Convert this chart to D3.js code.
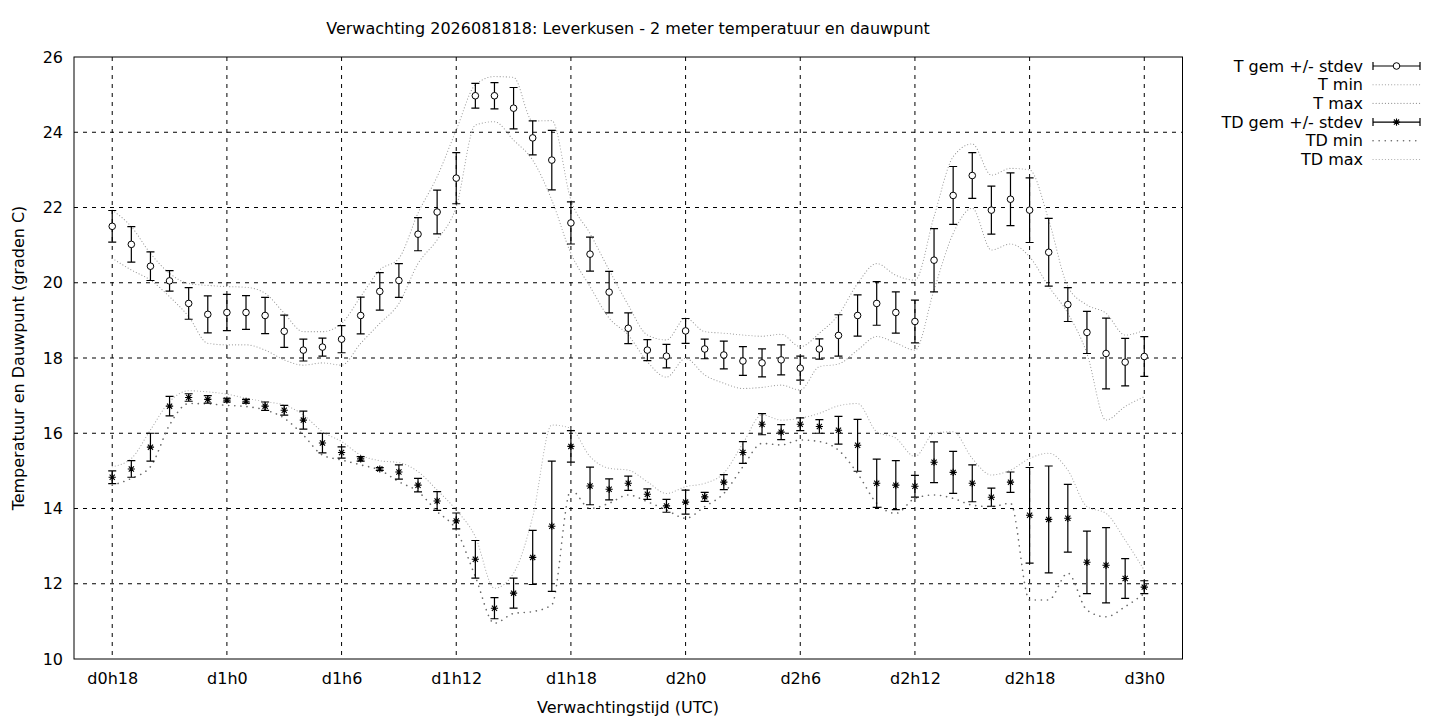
<!DOCTYPE html>
<html>
<head>
<meta charset="utf-8">
<script src="https://cdn.jsdelivr.net/npm/d3@7"></script>
<style>
  body { margin: 0; background: #fff; }
  svg { font-family: "DejaVu Sans", sans-serif; }
</style>
</head>
<body>
<div id="chart"></div>
<script>
// forecast hours, one point per hour from d0h18 to d3h0
var hours = d3.range(18, 73);

var tMean = [21.5, 21.02, 20.44, 20.05, 19.45, 19.16, 19.21, 19.21, 19.13, 18.71,
  18.21, 18.29, 18.5, 19.13, 19.77, 20.06, 21.29, 21.88, 22.78, 24.97,
  24.97, 24.64, 23.85, 23.26, 21.59, 20.76, 19.75, 18.79, 18.21, 18.05,
  18.72, 18.24, 18.08, 17.92, 17.87, 17.95, 17.73, 18.24, 18.6, 19.13,
  19.45, 19.21, 18.97, 20.6, 22.32, 22.85, 21.93, 22.22, 21.93, 20.81,
  19.42, 18.68, 18.12, 17.89, 18.04];
var tSd = [0.42, 0.47, 0.38, 0.27, 0.42, 0.49, 0.48, 0.45, 0.48, 0.43,
  0.29, 0.24, 0.36, 0.49, 0.5, 0.45, 0.44, 0.58, 0.68, 0.33,
  0.35, 0.55, 0.45, 0.79, 0.56, 0.45, 0.55, 0.41, 0.28, 0.31,
  0.33, 0.26, 0.37, 0.38, 0.37, 0.4, 0.32, 0.27, 0.55, 0.55,
  0.58, 0.55, 0.57, 0.84, 0.77, 0.61, 0.64, 0.7, 0.86, 0.9,
  0.45, 0.56, 0.94, 0.63, 0.53];
var tMin = [20.65, 20.34, 20.07, 19.63, 19.1, 18.39, 18.35, 18.35, 18.21, 17.95,
  17.81, 17.87, 17.81, 18.39, 18.92, 19.45, 20.51, 21.14, 22.02, 24.19,
  24.28, 23.79, 23.26, 22.2, 20.78, 19.9, 19.06, 18.61, 17.9, 17.49,
  17.99, 17.55, 17.33, 17.19, 17.22, 17.28, 17.15, 17.77, 17.84, 18.21,
  18.57, 18.4, 18.21, 19.81, 21.31, 21.98, 20.87, 21.03, 20.69, 19.9,
  19.19, 18.12, 16.35, 16.71, 16.97];
var tMax = [21.93, 21.49, 20.78, 20.25, 19.98, 19.93, 19.9, 19.88, 19.72, 19.19,
  18.7, 18.7, 18.92, 19.63, 20.34, 20.65, 21.85, 22.82, 24.06, 25.26,
  25.48, 25.46, 24.3, 24.31, 22.2, 21.31, 20.34, 19.41, 18.61, 18.48,
  19.06, 18.7, 18.66, 18.61, 18.58, 18.63, 18.3, 18.66, 19.15, 19.98,
  20.51, 20.2, 20.07, 21.76, 23.35, 23.69, 22.86, 23.04, 23.0, 21.67,
  19.9, 19.41, 19.19, 18.61, 18.74];

var tdMean = [14.83, 15.05, 15.63, 16.72, 16.95, 16.9, 16.88, 16.85, 16.72, 16.61,
  16.35, 15.74, 15.49, 15.32, 15.05, 14.97, 14.62, 14.2, 13.67, 12.65,
  11.35, 11.75, 12.7, 13.53, 15.65, 14.6, 14.51, 14.67, 14.38, 14.07,
  14.17, 14.31, 14.7, 15.49, 16.24, 16.03, 16.24, 16.18, 16.08, 15.68,
  14.67, 14.62, 14.59, 15.23, 14.96, 14.67, 14.3, 14.7, 13.82, 13.71,
  13.74, 12.57, 12.49, 12.14, 11.91];
var tdSd = [0.17, 0.22, 0.37, 0.26, 0.1, 0.1, 0.05, 0.05, 0.11, 0.13,
  0.24, 0.26, 0.15, 0.06, 0.04, 0.19, 0.18, 0.25, 0.21, 0.5,
  0.28, 0.4, 0.72, 1.73, 0.42, 0.5, 0.28, 0.19, 0.14, 0.17,
  0.32, 0.12, 0.2, 0.29, 0.28, 0.2, 0.17, 0.18, 0.37, 0.69,
  0.64, 0.65, 0.29, 0.54, 0.56, 0.49, 0.24, 0.27, 1.27, 1.42,
  0.9, 0.83, 1.0, 0.53, 0.17];
var tdMin = [14.62, 14.8, 15.11, 16.22, 16.79, 16.78, 16.74, 16.71, 16.62, 16.4,
  15.95, 15.42, 15.29, 15.16, 15.02, 14.71, 14.45, 13.92, 13.43, 12.19,
  10.95, 11.21, 11.26, 11.44, 14.49, 14.0, 14.14, 14.36, 14.18, 13.96,
  13.74, 14.05, 14.4, 15.11, 15.73, 15.69, 15.82, 15.78, 15.55, 14.93,
  14.14, 13.87, 14.27, 14.36, 14.27, 14.09, 14.05, 14.14, 11.57, 11.57,
  12.28, 11.3, 11.12, 11.39, 11.74];
var tdMax = [15.11, 15.33, 16.09, 16.84, 17.13, 17.1, 17.04, 16.93, 16.84, 16.75,
  16.49, 16.04, 15.78, 15.42, 15.27, 15.22, 14.98, 14.49, 13.96, 13.25,
  11.88, 12.28, 13.78, 16.22, 16.13, 15.38, 15.07, 15.02, 14.71, 14.4,
  14.58, 14.67, 14.94, 15.73, 16.49, 16.35, 16.4, 16.53, 16.73, 16.79,
  16.04, 15.87, 15.38, 16.0, 16.04, 15.33, 14.89, 15.02, 15.33, 15.47,
  15.02, 14.05, 13.87, 13.16, 12.36];

var xTicks = [18, 24, 30, 36, 42, 48, 54, 60, 66, 72];
var xTickLabels = ["d0h18", "d1h0", "d1h6", "d1h12", "d1h18", "d2h0", "d2h6", "d2h12", "d2h18", "d3h0"];
var yTicks = [10, 12, 14, 16, 18, 20, 22, 24, 26];

var legendLabels = ["T gem +/- stdev", "T min", "T max", "TD gem +/- stdev", "TD min", "TD max"];

// helpers  (note: "top" is taken by window.top, so plot edges get own names)
var W = 1440, H = 720;
var plotL = 74, plotR = 1182.5, plotT = 57, plotB = 659;
var fs = 16;
var x = d3.scaleLinear().domain([16, 74]).range([plotL, plotR]);
var y = d3.scaleLinear().domain([10, 26]).range([plotB, plotT]);

var svg = d3.select("#chart").append("svg").attr("width", W).attr("height", H);

// dotted styles for min/max lines
var styles = {
  tmin: { stroke: "#9a9a9a", dash: "0.1,3", width: 1.1 },
  tmax: { stroke: "#9a9a9a", dash: "0.1,3", width: 1.1 },
  tdmin: { stroke: "#6a6a6a", dash: "0.1,6", width: 1.6 },
  tdmax: { stroke: "#a8a8a8", dash: "0.1,3", width: 1.1 }
};

// grid
var gridX = svg.append("g").attr("class", "grid-x");
gridX.selectAll("line").data(xTicks).enter().append("line")
  .attr("x1", function(d) { return x(d); })
  .attr("x2", function(d) { return x(d); })
  .attr("y1", plotT).attr("y2", plotB)
  .attr("stroke", "#000").attr("stroke-width", 1).attr("stroke-dasharray", "4,5");
var gridY = svg.append("g").attr("class", "grid-y");
gridY.selectAll("line").data(yTicks.slice(1, -1)).enter().append("line")
  .attr("x1", plotL).attr("x2", plotR)
  .attr("y1", function(d) { return y(d); })
  .attr("y2", function(d) { return y(d); })
  .attr("stroke", "#000").attr("stroke-width", 1).attr("stroke-dasharray", "4,5");

// axes (labels only, border drawn separately)
var xAxis = d3.axisBottom(x).tickValues(xTicks).tickSize(0).tickPadding(14)
  .tickFormat(function(d, i) { return xTickLabels[i]; });
svg.append("g").attr("transform", "translate(0," + plotB + ")").call(xAxis)
  .call(function(g) { g.select(".domain").remove(); })
  .selectAll("text").attr("font-size", fs).attr("font-family", "DejaVu Sans").attr("fill", "#000");

var yAxis = d3.axisLeft(y).tickValues(yTicks).tickSize(0).tickPadding(11);
svg.append("g").attr("transform", "translate(" + plotL + ",0)").call(yAxis)
  .call(function(g) { g.select(".domain").remove(); })
  .selectAll("text").attr("font-size", fs).attr("font-family", "DejaVu Sans").attr("fill", "#000");

svg.append("rect")
  .attr("x", plotL).attr("y", plotT)
  .attr("width", plotR - plotL).attr("height", plotB - plotT)
  .attr("fill", "none").attr("stroke", "#000").attr("stroke-width", 1);

// min / max lines
var line = d3.line()
  .x(function(d, i) { return x(hours[i]); })
  .y(function(d) { return y(d); })
  .curve(d3.curveMonotoneX);

var drawLine = function(values, st) {
  svg.append("path")
    .attr("d", line(values))
    .attr("fill", "none")
    .attr("stroke", st.stroke)
    .attr("stroke-width", st.width)
    .attr("stroke-dasharray", st.dash)
    .attr("stroke-linecap", "round");
};
drawLine(tMin, styles.tmin);
drawLine(tMax, styles.tmax);
drawLine(tdMin, styles.tdmin);
drawLine(tdMax, styles.tdmax);

// error bars
var cap = 4;
var errPath = function(cx, y1, y2) {
  return "M" + (cx - cap) + "," + y1 + "H" + (cx + cap) +
    "M" + cx + "," + y1 + "V" + y2 +
    "M" + (cx - cap) + "," + y2 + "H" + (cx + cap);
};
var starPath = function(cx, cy, s) {
  var d = s * 0.72;
  return "M" + (cx - s) + "," + cy + "H" + (cx + s) +
    "M" + cx + "," + (cy - s) + "V" + (cy + s) +
    "M" + (cx - d) + "," + (cy - d) + "L" + (cx + d) + "," + (cy + d) +
    "M" + (cx - d) + "," + (cy + d) + "L" + (cx + d) + "," + (cy - d);
};

var drawErrors = function(mean, sd, cls) {
  svg.append("g").attr("class", cls + "-err").selectAll("path")
    .data(mean).enter().append("path")
    .attr("d", function(d, i) { return errPath(x(hours[i]), y(d + sd[i]), y(d - sd[i])); })
    .attr("fill", "none").attr("stroke", "#000").attr("stroke-width", 1.2);
};
drawErrors(tMean, tSd, "t");
drawErrors(tdMean, tdSd, "td");

svg.append("g").attr("class", "t-pts").selectAll("circle")
  .data(tMean).enter().append("circle")
  .attr("cx", function(d, i) { return x(hours[i]); })
  .attr("cy", function(d) { return y(d); })
  .attr("r", 3.3)
  .attr("fill", "#fff").attr("stroke", "#000").attr("stroke-width", 1);

svg.append("g").attr("class", "td-pts").selectAll("path")
  .data(tdMean).enter().append("path")
  .attr("d", function(d, i) { return starPath(x(hours[i]), y(d), 3.6); })
  .attr("fill", "none").attr("stroke", "#000").attr("stroke-width", 1.1);

// titles
svg.append("text").attr("x", 628).attr("y", 34).attr("text-anchor", "middle")
  .attr("font-size", fs).text("Verwachting 2026081818: Leverkusen - 2 meter temperatuur en dauwpunt");
svg.append("text").attr("x", 628).attr("y", 713).attr("text-anchor", "middle")
  .attr("font-size", fs).text("Verwachtingstijd (UTC)");
svg.append("text").attr("transform", "translate(24,358) rotate(-90)").attr("text-anchor", "middle")
  .attr("font-size", fs).text("Temperatuur en Dauwpunt (graden C)");

// legend
var legend = svg.append("g").attr("class", "legend");
var lx1 = 1373, lx2 = 1420, ly0 = 66, lstep = 18.7;
legendLabels.forEach(function(lab, i) {
  var ly = ly0 + i * lstep;
  legend.append("text").attr("x", 1363).attr("y", ly).attr("dy", "0.35em")
    .attr("text-anchor", "end").attr("font-size", fs).text(lab);
  if (i === 0 || i === 3) {
    legend.append("path")
      .attr("d", "M" + lx1 + "," + ly + "H" + lx2 +
        "M" + lx1 + "," + (ly - cap) + "V" + (ly + cap) +
        "M" + lx2 + "," + (ly - cap) + "V" + (ly + cap))
      .attr("fill", "none").attr("stroke", "#000").attr("stroke-width", 1.2);
    if (i === 0) {
      legend.append("circle").attr("cx", (lx1 + lx2) / 2).attr("cy", ly).attr("r", 3.3)
        .attr("fill", "#fff").attr("stroke", "#000");
    } else {
      legend.append("path").attr("d", starPath((lx1 + lx2) / 2, ly, 3.6))
        .attr("fill", "none").attr("stroke", "#000").attr("stroke-width", 1.1);
    }
  } else {
    var st = [null, styles.tmin, styles.tmax, null, styles.tdmin, styles.tdmax][i];
    legend.append("line").attr("x1", lx1).attr("x2", lx2).attr("y1", ly).attr("y2", ly)
      .attr("stroke", st.stroke).attr("stroke-width", st.width)
      .attr("stroke-dasharray", st.dash).attr("stroke-linecap", "round");
  }
});
</script>
</body>
</html>
